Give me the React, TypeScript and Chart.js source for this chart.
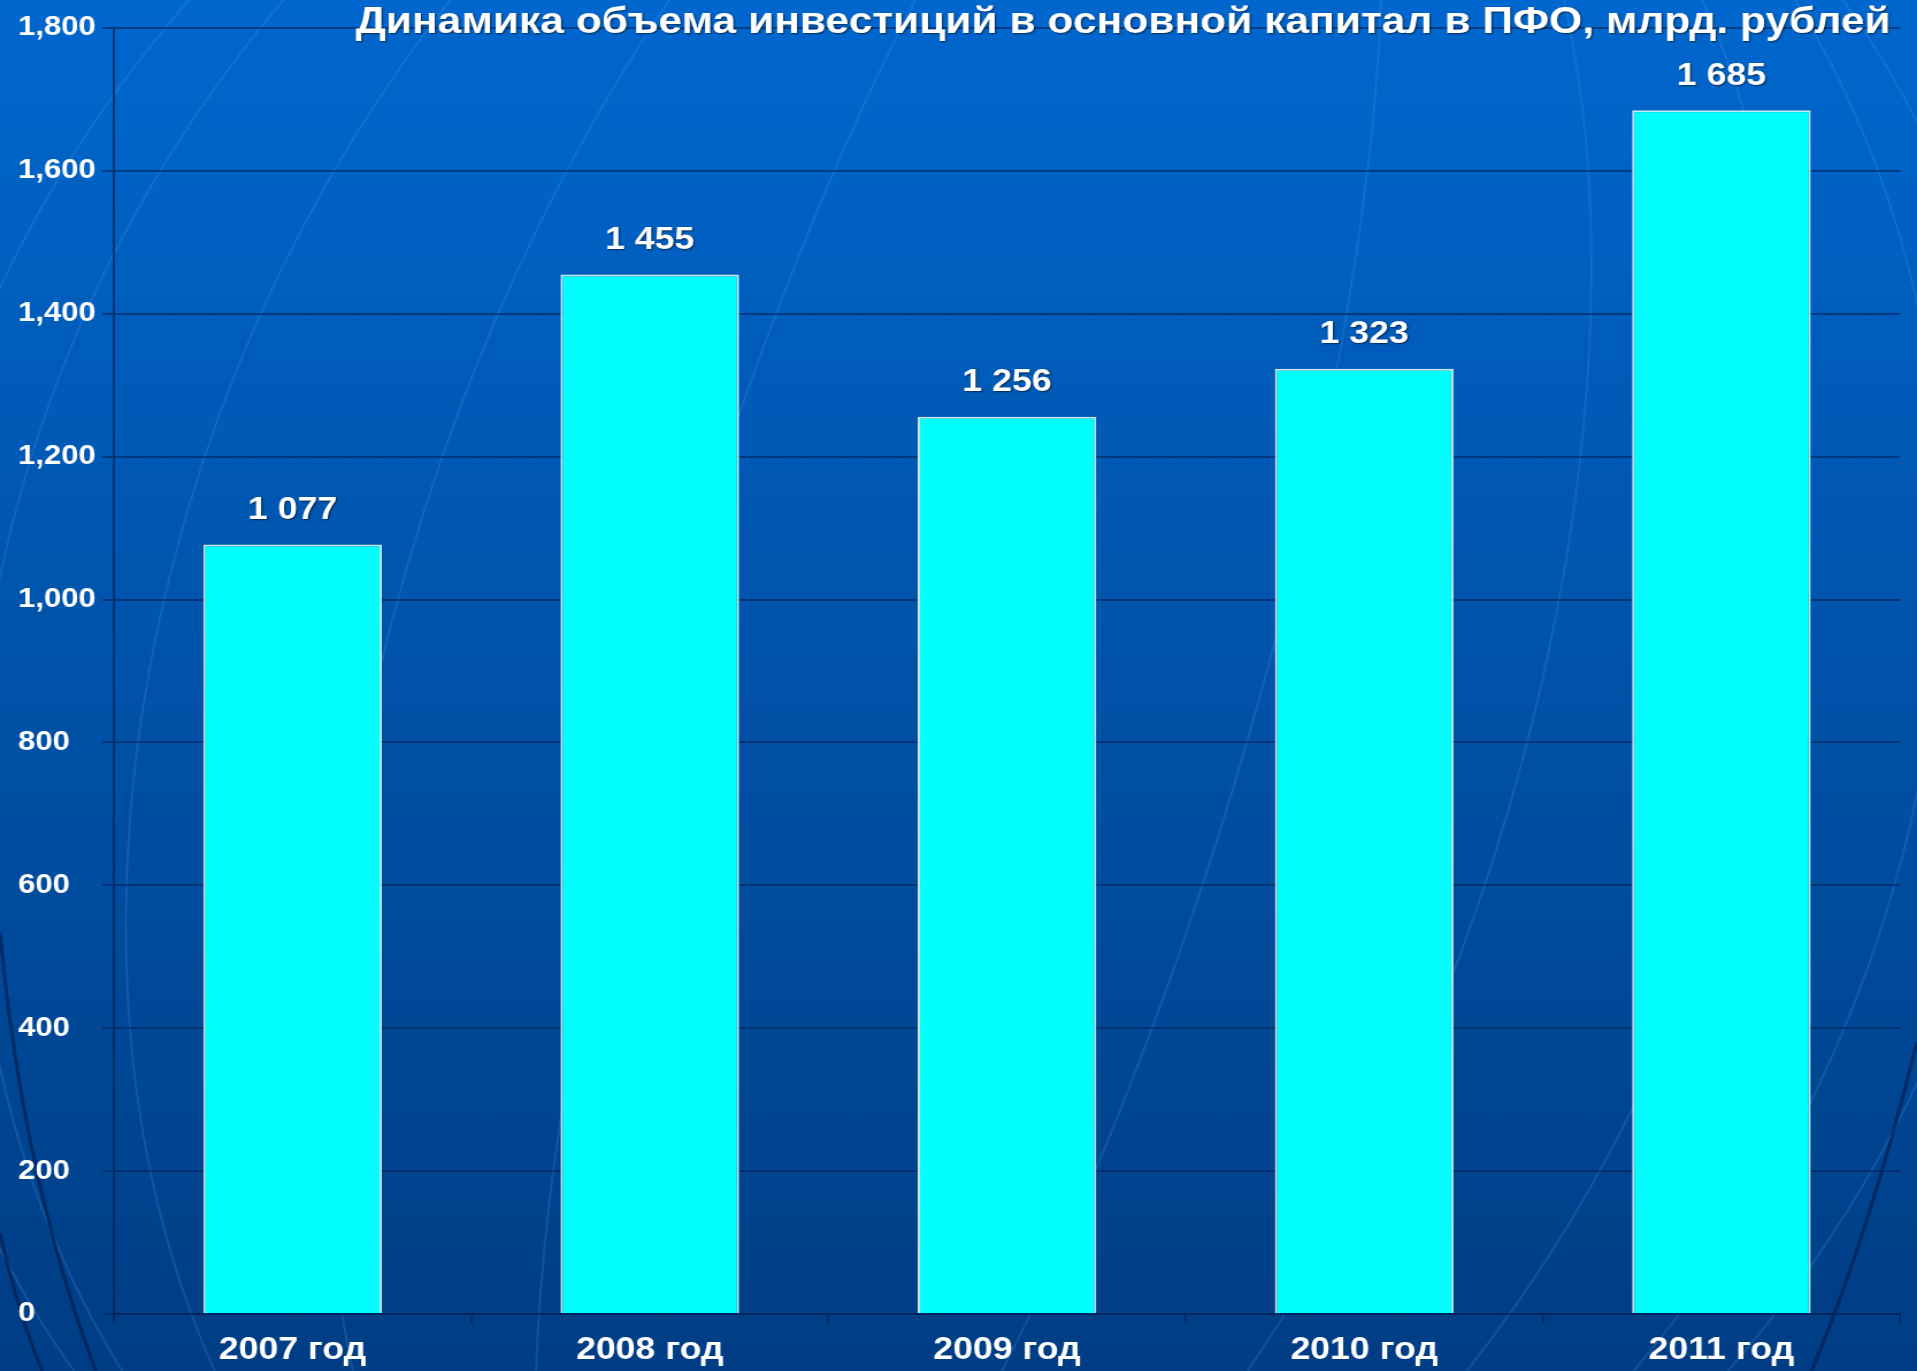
import React, { useEffect, useRef } from "react";
import { Chart, registerables } from "chart.js";

Chart.register(...registerables);

const categories: string[] = ["2007 год", "2008 год", "2009 год", "2010 год", "2011 год"];
const investmentValues: number[] = [1077, 1455, 1256, 1323, 1685];
const yMin = 0;
const yMax = 1800;
const yStep = 200;
const titleText = "Динамика объема инвестиций в основной капитал в ПФО, млрд. рублей";

const FONT = "'Liberation Sans', Arial, sans-serif";
const PAGE_W = 1917;
const PAGE_H = 1371;
const STRETCH = 1.15;
const INNER_W = PAGE_W / STRETCH;

const formatSpace = (v: number) => String(v).replace(/\B(?=(\d{3})+(?!\d))/g, " ");

const backgroundPlugin = {
  id: "bgGlobe",
  beforeDraw(chart: any) {
    const { ctx, width, height } = chart;
    ctx.save();
    const g = ctx.createLinearGradient(0, 0, 0, height);
    g.addColorStop(0, "#0067ce");
    g.addColorStop(0.5, "#0052a8");
    g.addColorStop(1, "#003d84");
    ctx.fillStyle = g;
    ctx.fillRect(0, 0, width, height);

    // faint globe meridians
    ctx.save();
    ctx.translate(width * 0.5, height * 0.5);
    ctx.rotate(0.25);
    ctx.strokeStyle = "rgba(80,155,240,0.22)";
    ctx.lineWidth = 2;
    const R = height * 0.8;
    for (let k = 1; k <= 5; k++) {
      const rx = R * 0.85 * Math.sin((k * 16 * Math.PI) / 180);
      ctx.beginPath();
      ctx.ellipse(0, 0, rx, R, 0, 0, Math.PI * 2);
      ctx.stroke();
    }
    ctx.restore();

    // dark globe edge arcs in the lower corners
    ctx.strokeStyle = "rgba(0,25,70,0.6)";
    ctx.lineWidth = 3;
    ctx.beginPath();
    ctx.moveTo(0, height * 0.68);
    ctx.quadraticCurveTo(width * 0.012, height * 0.86, width * 0.05, height);
    ctx.stroke();
    ctx.beginPath();
    ctx.moveTo(0, height * 0.9);
    ctx.quadraticCurveTo(width * 0.01, height * 0.96, width * 0.022, height);
    ctx.stroke();
    ctx.beginPath();
    ctx.moveTo(width, height * 0.76);
    ctx.quadraticCurveTo(width * 0.975, height * 0.9, width * 0.945, height);
    ctx.stroke();
    ctx.restore();
  },
};

const overlayTextPlugin = {
  id: "overlayText",
  afterDatasetsDraw(chart: any) {
    const { ctx } = chart;
    ctx.save();
    ctx.shadowColor = "rgba(0,0,0,0.55)";
    ctx.shadowOffsetX = 1;
    ctx.shadowOffsetY = 1;
    ctx.shadowBlur = 2;
    ctx.fillStyle = "#ffffff";
    ctx.textAlign = "center";
    ctx.textBaseline = "middle";
    ctx.font = `bold 31px ${FONT}`;
    const meta = chart.getDatasetMeta(0);
    meta.data.forEach((bar: any, i: number) => {
      const v = chart.data.datasets[0].data[i];
      ctx.fillText(formatSpace(v), bar.x, bar.y - 34);
    });
    ctx.textAlign = "right";
    ctx.textBaseline = "alphabetic";
    ctx.font = `bold 37px ${FONT}`;
    ctx.fillText(titleText, chart.width - 23, 33);
    ctx.restore();
  },
};

export default function App() {
  const ref = useRef<HTMLCanvasElement | null>(null);

  useEffect(() => {
    if (!ref.current) return;
    const chart = new Chart(ref.current, {
      type: "bar",
      data: {
        labels: categories,
        datasets: [
          {
            data: investmentValues,
            backgroundColor: "#00ffff",
            borderColor: "rgba(205,240,240,0.95)",
            borderWidth: 2,
            barPercentage: 0.5,
            categoryPercentage: 1,
          },
        ],
      },
      options: {
        animation: false,
        responsive: true,
        maintainAspectRatio: false,
        locale: "en-US",
        layout: { padding: { left: 15.7, right: 14.8, top: 28, bottom: 0 } },
        plugins: {
          legend: { display: false },
          tooltip: { enabled: false },
          title: { display: false },
        },
        scales: {
          x: {
            grid: {
              display: true,
              drawOnChartArea: false,
              offset: true,
              color: "rgba(0,35,90,0.7)",
              lineWidth: 2,
              tickLength: 10,
            },
            border: { color: "rgba(0,35,90,0.7)", width: 2 },
            ticks: {
              color: "#ffffff",
              font: { family: FONT, size: 31, weight: "bold" },
              padding: 8,
            },
            afterFit(scale: any) {
              scale.height = 57;
            },
          },
          y: {
            min: yMin,
            max: yMax,
            ticks: {
              stepSize: yStep,
              color: "#ffffff",
              font: { family: FONT, size: 27, weight: "bold" },
              crossAlign: "far",
            },
            grid: {
              color: "rgba(0,35,90,0.6)",
              lineWidth: 2,
              tickLength: 10,
            },
            border: { color: "rgba(0,35,90,0.7)", width: 2 },
            afterFit(scale: any) {
              scale.width = 83.4;
            },
          },
        },
      },
      plugins: [backgroundPlugin, overlayTextPlugin],
    });
    return () => chart.destroy();
  }, []);

  return (
    <div
      style={{
        position: "fixed",
        left: 0,
        top: 0,
        width: PAGE_W,
        height: PAGE_H,
        overflow: "hidden",
        background: "#0052a8",
      }}
    >
      <div
        style={{
          width: INNER_W,
          height: PAGE_H,
          transform: `scaleX(${STRETCH})`,
          transformOrigin: "0 0",
        }}
      >
        <canvas ref={ref} />
      </div>
    </div>
  );
}
